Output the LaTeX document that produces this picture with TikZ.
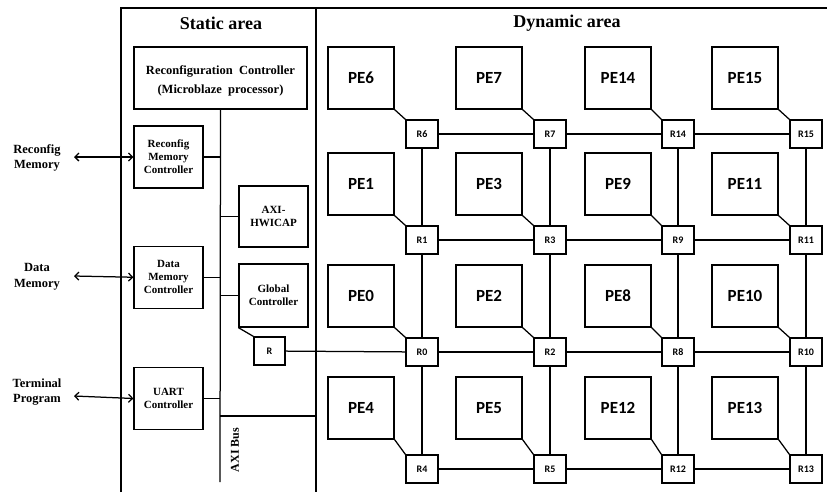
\documentclass[tikz,border=0pt]{standalone}
\usepackage{fontspec}
\setmainfont{Liberation Serif}
\newfontfamily\calibri{Carlito}
\usetikzlibrary{arrows.meta,positioning}

\begin{document}
\begin{tikzpicture}[x=1pt,y=-1pt,
      node distance=57pt,
      frame/.style={line width=1.6pt},
      link/.style={line width=1.25pt},
      title/.style={font=\bfseries\fontsize{18}{22}\selectfont},
      ctrl/.style={draw,line width=1.25pt,align=center,inner sep=1pt,
        font=\bfseries\fontsize{11}{13}\selectfont,
        minimum width=69pt,minimum height=62pt},
      pebox/.style={draw,line width=1.25pt,font=\calibri\bfseries\fontsize{17}{20}\selectfont,
        minimum width=66pt,minimum height=62pt},
      router/.style={draw,line width=1.25pt,inner sep=0pt,
        font=\calibri\bfseries\fontsize{10}{12}\selectfont,
        minimum width=32pt,minimum height=28pt},
      extlabel/.style={font=\bfseries\fontsize{12.5}{15.5}\selectfont,align=center},
      biarrow/.style={{Straight Barb[length=4pt,width=8pt]}-{Straight Barb[length=4pt,width=8pt]},
        line width=1.25pt}
    ]
      \useasboundingbox (0,0) rectangle (827,493);
      % outer frame of the two areas
      \coordinate (topleft) at (121,8);
      \coordinate (botleft) at (121,492);
      \coordinate (divtop) at (316,8);
      \coordinate (divbot) at (316,492);
      \coordinate (topright) at (827,8);
      \draw[frame] (botleft) -- (topleft) -- (topright);
      \draw[frame] (divtop) -- (divbot);
      \node[title] (stitle) at (221,23) {Static area};
      \node[title] (dtitle) at (567,23) {Dynamic area};

      % static area
      \node[ctrl,minimum width=173pt,font=\bfseries\fontsize{12.5}{19}\selectfont]
        (rc) at (220.5,78) {};
      \node[font=\bfseries\fontsize{12.5}{19}\selectfont,align=center] (rctext) at (220.5,81)
        {Reconfiguration~ Controller\\(Microblaze~ processor)};
      \node[ctrl] (rmc) at (168.5,157) {Reconfig\\Memory\\Controller};
      \node[ctrl,below=of rmc] (dmc) {Data\\Memory\\Controller};
      \node[ctrl,below=58pt of dmc] (uart) {UART\\Controller};
      \node[ctrl,minimum height=61pt] (hwicap) at (273.5,216.5) {AXI-\\HWICAP};
      \node[ctrl,minimum height=63pt] (gc) at (273.5,295.5) {Global\\Controller};
      \node[router,minimum width=31pt] (rs) at (269.5,351) {R};
      \coordinate (busend) at (220,482);
      \coordinate (busknee) at (220,416);
      \coordinate (busright) at (316,416);
      \draw[link] (rc.south) -- (busend);
      \draw[link] (busknee) -- (busright);
      \draw[link] (rmc) -- (rmc -| busend);
      \draw[link] (dmc) -- (dmc -| busend);
      \draw[link] (uart) -- (uart -| busend);
      \draw[link] (hwicap) -- (hwicap -| busend);
      \draw[link] (gc) -- (gc -| busend);
      \draw[link] (gc.south west) -- (rs.north west);
      \node[font=\bfseries\fontsize{12}{14}\selectfont,rotate=90] (axibus) at (235,450) {AXI Bus};

      % outside world
      \node[extlabel] (rmem) at (37,158) {Reconfig\\Memory};
      \node[extlabel] (dmem) at (37,277) {Data\\Memory};
      \node[extlabel] (term) at (37,392) {Terminal\\Program};
      \coordinate (rmemend) at (74,157);
      \coordinate (dmemend) at (74,276);
      \coordinate (termend) at (74,396);
      \draw[biarrow] (rmemend) -- (rmc.west);
      \draw[biarrow] (dmemend) -- (dmc.west);
      \draw[biarrow] (termend) -- (uart.west);

      % dynamic area: PEs with their routers
      \foreach \py/\ry/\a/\b/\c/\d in {78/134/6/7/14/15,184/240/1/3/9/11,
          296/352/0/2/8/10,408/469/4/5/12/13}{
        \foreach \px/\rx/\n in {361/422/\a,489/550/\b,618/678/\c,745/806/\d}{
          \node[pebox] (pe\n) at (\px,\py) {PE\n};
          \node[router] (r\n) at (\rx,\ry) {R\n};
          \draw[link] (pe\n.south east) -- (r\n.north west);
        }
      }
      \draw[link] (r6) -- (r7) -- (r14) -- (r15);
      \draw[link] (r1) -- (r3) -- (r9) -- (r11);
      \draw[link] (r0) -- (r2) -- (r8) -- (r10);
      \draw[link] (r4) -- (r5) -- (r12) -- (r13);
      \draw[link] (r6) -- (r1) -- (r0) -- (r4);
      \draw[link] (r7) -- (r3) -- (r2) -- (r5);
      \draw[link] (r14) -- (r9) -- (r8) -- (r12);
      \draw[link] (r15) -- (r11) -- (r10) -- (r13);
      \draw[link] (rs) -- (r0);
    \end{tikzpicture}
\end{document}
